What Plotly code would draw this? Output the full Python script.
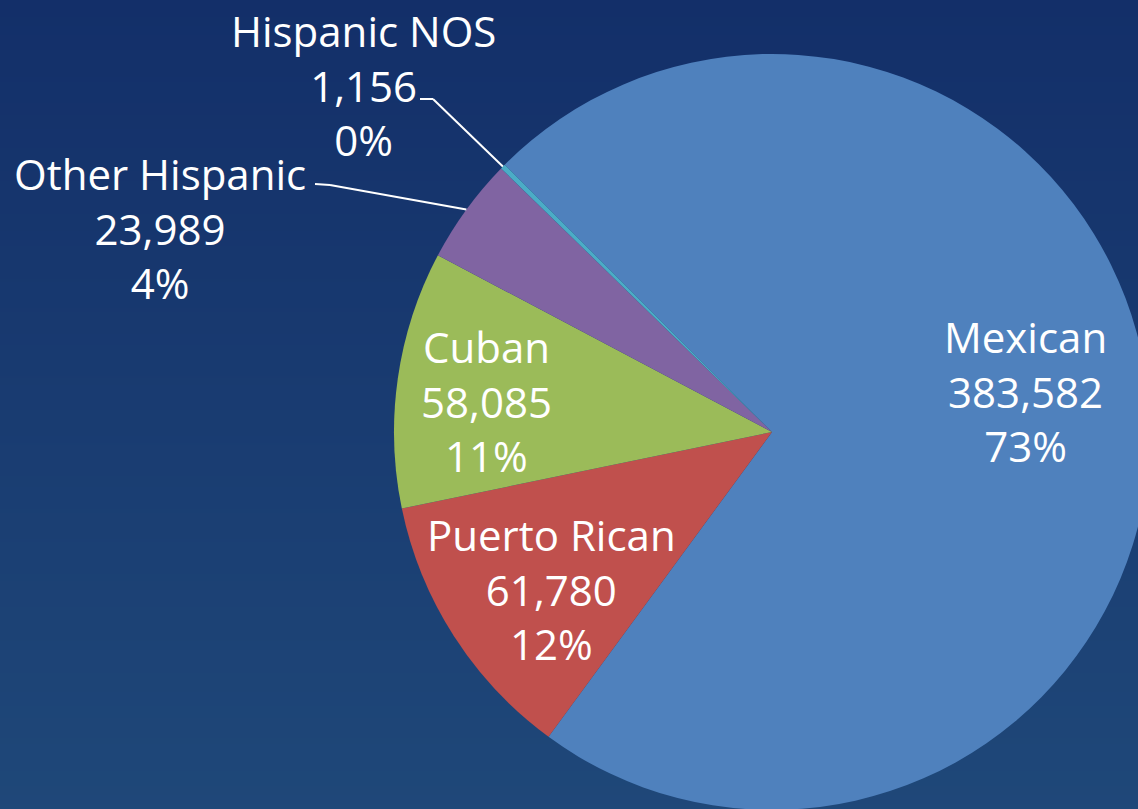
import math
import plotly.graph_objects as go

# ---- data ----
labels = ["Mexican", "Puerto Rican", "Cuban", "Other Hispanic", "Hispanic NOS"]
values = [383582, 61780, 58085, 23989, 1156]
pct_labels = ["73%", "12%", "11%", "4%", "0%"]
colors = ["#4F81BD", "#C0504D", "#9BBB59", "#8064A2", "#4BACC6"]

# ---- layout geometry ----
# figure is slightly larger than the window so the pie can run off the edge
W, H = 1160, 820
PIE_CX, PIE_CY, PIE_R = 772, 432, 378
dom_x = [(PIE_CX - PIE_R) / W, (PIE_CX + PIE_R) / W]
dom_y = [1 - (PIE_CY + PIE_R) / H, 1 - (PIE_CY - PIE_R) / H]
rotation = -45
FONT = "Open Sans"
FONT_SIZE = 42

# label centers (pixels, top-left origin)
label_px = {
    "Mexican": (1025, 391),
    "Puerto Rican": (551, 589),
    "Cuban": (486, 401),
    "Other Hispanic": (160, 228),
    "Hispanic NOS": (363, 85),
}
# leader start points (pixels): text end, then horizontal elbow
leader_px = {
    "Other Hispanic": [(315, 184), (330, 185)],
    "Hispanic NOS": [(420, 99), (433, 99)],
}


def px2paper(x, y):
    return x / W, 1 - y / H


fig = go.Figure()

# background vertical gradient
fig.add_trace(go.Heatmap(
    z=[[0, 0], [1, 1]], x=[0, 1], y=[0, 1],
    colorscale=[[0, "#1f4879"], [1, "#132f69"]],
    zsmooth="best", showscale=False, hoverinfo="skip",
))

fig.add_trace(go.Pie(
    labels=labels, values=values, sort=False, direction="clockwise",
    rotation=rotation, textinfo="none",
    marker=dict(colors=colors, line=dict(width=0)),
    domain=dict(x=dom_x, y=dom_y), showlegend=False, hoverinfo="skip",
))

# pie geometry in pixels
cx = (dom_x[0] + dom_x[1]) / 2 * W
cy = H - (dom_y[0] + dom_y[1]) / 2 * H
r = min((dom_x[1] - dom_x[0]) * W, (dom_y[1] - dom_y[0]) * H) / 2
total = sum(values)

annotations = []
shapes = []
cum = 0
for lab, val, pct in zip(labels, values, pct_labels):
    mid = math.radians(rotation + 360 * (cum + val / 2) / total)
    cum += val
    x, y = px2paper(*label_px[lab])
    annotations.append(dict(
        x=x, y=y, xref="paper", yref="paper", xanchor="center", yanchor="middle",
        text=f"{lab}<br>{val:,}<br>{pct}", showarrow=False,
        font=dict(family=FONT, size=FONT_SIZE, color="white"),
    ))
    if lab in leader_px:
        ex = cx + r * math.sin(mid)
        ey = cy - r * math.cos(mid)
        pts = leader_px[lab] + [(ex, ey)]
        for (x0, y0), (x1, y1) in zip(pts[:-1], pts[1:]):
            a0 = px2paper(x0, y0)
            a1 = px2paper(x1, y1)
            shapes.append(dict(type="line", xref="paper", yref="paper",
                               x0=a0[0], y0=a0[1], x1=a1[0], y1=a1[1],
                               line=dict(color="white", width=2)))

fig.update_layout(
    width=W, height=H, margin=dict(l=0, r=0, t=0, b=0),
    paper_bgcolor="#1a3c72", plot_bgcolor="#1a3c72",
    xaxis=dict(visible=False, range=[0, 1], domain=[0, 1], fixedrange=True),
    yaxis=dict(visible=False, range=[0, 1], domain=[0, 1], fixedrange=True),
    annotations=annotations, shapes=shapes, showlegend=False,
)

fig.write_html(
    "out.html",
    post_script="document.documentElement.style.overflow='hidden';"
                "document.body.style.overflow='hidden';"
                "document.body.style.margin='0';",
)
